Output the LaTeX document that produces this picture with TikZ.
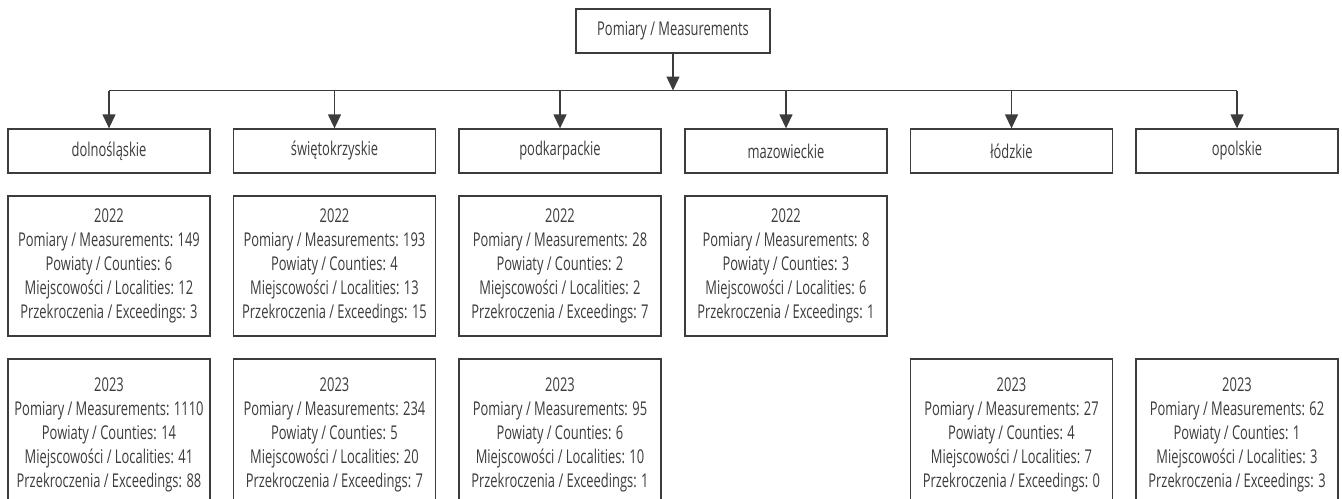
\documentclass[tikz,border=0pt]{standalone}
\usepackage{fontspec}
\setmainfont{Open Sans}[FakeStretch=0.68]
\usetikzlibrary{arrows.meta}
\definecolor{inkgray}{HTML}{3C3C3C}
\begin{document}
\begin{tikzpicture}[x=0.5pt,y=-0.5pt,
    box/.style={draw=inkgray,line width=0.65pt,text=inkgray,inner sep=0pt,
      font=\fontsize{9.5}{12}\selectfont,align=center,minimum width=101pt},
    headbox/.style={box,minimum height=22pt},
    yearbox/.style={box,minimum height=70pt},
    arr/.style={draw=inkgray,line width=0.65pt,-{Triangle[length=7pt,width=6.5pt]}}]
                \clip (0,0) rectangle (1342,498);
                \node[headbox,minimum width=97pt] (top) at (673,31) {Pomiary / Measurements};

                \node[headbox] (reg1) at (109,151) {dolnośląskie};
                \node[headbox] (reg2) at (334.5,151) {świętokrzyskie};
                \node[headbox] (reg3) at (560,151) {podkarpackie};
                \node[headbox] (reg4) at (786,151) {mazowieckie};
                \node[headbox] (reg5) at (1011.5,151) {łódzkie};
                \node[headbox] (reg6) at (1237,151) {opolskie};

                \node[yearbox] (a1) at (109,266) {2022\\Pomiary / Measurements: 149\\Powiaty / Counties: 6\\Miejscowości / Localities: 12\\Przekroczenia / Exceedings: 3};
                \node[yearbox] (a2) at (334.5,266) {2022\\Pomiary / Measurements: 193\\Powiaty / Counties: 4\\Miejscowości / Localities: 13\\Przekroczenia / Exceedings: 15};
                \node[yearbox] (a3) at (560,266) {2022\\Pomiary / Measurements: 28\\Powiaty / Counties: 2\\Miejscowości / Localities: 2\\Przekroczenia / Exceedings: 7};
                \node[yearbox] (a4) at (786,266) {2022\\Pomiary / Measurements: 8\\Powiaty / Counties: 3\\Miejscowości / Localities: 6\\Przekroczenia / Exceedings: 1};

                \node[yearbox,minimum height=76pt] (b1) at (109,435) {2023\\Pomiary / Measurements: 1110\\Powiaty / Counties: 14\\Miejscowości / Localities: 41\\Przekroczenia / Exceedings: 88};
                \node[yearbox,minimum height=76pt] (b2) at (334.5,435) {2023\\Pomiary / Measurements: 234\\Powiaty / Counties: 5\\Miejscowości / Localities: 20\\Przekroczenia / Exceedings: 7};
                \node[yearbox,minimum height=76pt] (b3) at (560,435) {2023\\Pomiary / Measurements: 95\\Powiaty / Counties: 6\\Miejscowości / Localities: 10\\Przekroczenia / Exceedings: 1};
                \node[yearbox,minimum height=76pt] (b5) at (1011.5,435) {2023\\Pomiary / Measurements: 27\\Powiaty / Counties: 4\\Miejscowości / Localities: 7\\Przekroczenia / Exceedings: 0};
                \node[yearbox,minimum height=76pt] (b6) at (1237,435) {2023\\Pomiary / Measurements: 62\\Powiaty / Counties: 1\\Miejscowości / Localities: 3\\Przekroczenia / Exceedings: 3};

                \coordinate (bus) at (673,90.5);
                \coordinate (bus1) at (109,90.5);
                \coordinate (bus2) at (334.5,90.5);
                \coordinate (bus3) at (560,90.5);
                \coordinate (bus4) at (786,90.5);
                \coordinate (bus5) at (1011.5,90.5);
                \coordinate (bus6) at (1237,90.5);

                \draw[arr] (top) to (bus);
                \draw[draw=inkgray,line width=0.65pt] (bus1) to (bus6);
                \draw[arr] (bus1) to (reg1); \draw[arr] (bus2) to (reg2); \draw[arr] (bus3) to (reg3);
                \draw[arr] (bus4) to (reg4); \draw[arr] (bus5) to (reg5); \draw[arr] (bus6) to (reg6);
            \end{tikzpicture}
\end{document}
